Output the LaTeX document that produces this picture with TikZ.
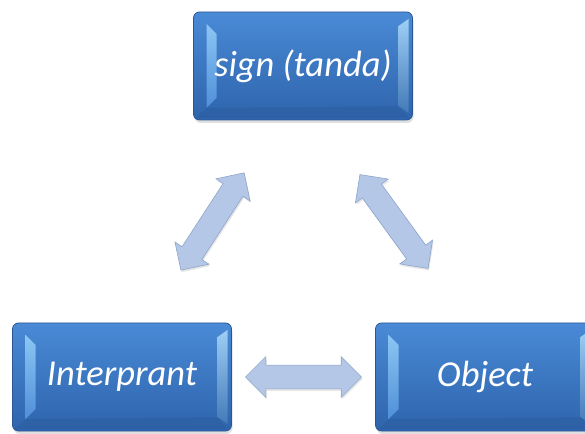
\documentclass[tikz,border=0pt]{standalone}
\usepackage{fontspec}
\setmainfont{Carlito}
\usetikzlibrary{positioning, calc, shapes.arrows, shadows}
\definecolor{boxtop}{HTML}{4A8AD6}
\definecolor{boxbot}{HTML}{2E64AC}
\definecolor{boxrim}{HTML}{2A5794}
\definecolor{bevtop}{HTML}{8CC6F4}
\definecolor{bevbot}{HTML}{4F8FD8}
\definecolor{arrfill}{HTML}{B4C7E7}
\definecolor{arrline}{HTML}{8EA5CA}
\tikzset{
  block/.style={rectangle, rounded corners=6pt,
    minimum width=219pt, minimum height=108pt,
    top color=boxtop, bottom color=boxbot, draw=boxrim, line width=0.8pt,
    text=white, font=\itshape\fontsize{36.5}{40}\selectfont,
    drop shadow={opacity=0.25, shadow xshift=1pt, shadow yshift=-3pt},
    path picture={
      \coordinate (p-nw) at (path picture bounding box.north west);
      \coordinate (p-se) at (path picture bounding box.south east);
      % left bevel
      \shade[sharp corners, top color=bevtop, bottom color=bevbot]
        ($(p-nw)+(13pt,-12pt)$) -- ($(p-nw)+(23pt,-22pt)$)
        -- ($(p-nw|-p-se)+(23pt,22pt)$) -- ($(p-nw|-p-se)+(13pt,12pt)$) -- cycle;
      % right bevel
      \shade[sharp corners, top color=bevtop!85!white, bottom color=bevbot!85!black]
        ($(p-se|-p-nw)+(-14pt,-14pt)$) -- ($(p-se|-p-nw)+(-4pt,-7pt)$)
        -- ($(p-se)+(-4pt,7pt)$) -- ($(p-se)+(-14pt,14pt)$) -- cycle;
      % bottom rim
      \fill[boxrim, opacity=0.3, sharp corners]
        ($(p-nw|-p-se)+(13pt,12pt)$) -- ($(p-se)+(-14pt,14pt)$)
        -- ($(p-se)+(-4pt,2pt)$) -- ($(p-nw|-p-se)+(3pt,2pt)$) -- cycle;
    }},
  link/.style={double arrow, draw=arrline, fill=arrfill, line width=0.6pt,
    inner sep=11.5pt, double arrow head extend=8.5pt, minimum height=116pt,
    drop shadow={opacity=0.2, shadow xshift=1pt, shadow yshift=-2pt}}
}

\begin{document}
\begin{tikzpicture}[x=1pt, y=1pt]
    \useasboundingbox (0,0) rectangle (585,433);
    \clip (0,0) rectangle (585,433);

    \node[block] (b-sign) at (303,367) {sign (tanda)};
    \node[block] (b-interp) at (122,56) {Interprant};
    \node[block] (b-obj) at (485,56) {Object};

    \node[link, rotate=57] (a-si) at ($(b-sign)!0.5!(b-interp)$) {};
    \node[link, rotate=-54] (a-so) at ($(b-sign)!0.5!(b-obj)$) {};
    \node[link] (a-io) at ($(b-interp)!0.5!(b-obj)$) {};
\end{tikzpicture}
\end{document}
